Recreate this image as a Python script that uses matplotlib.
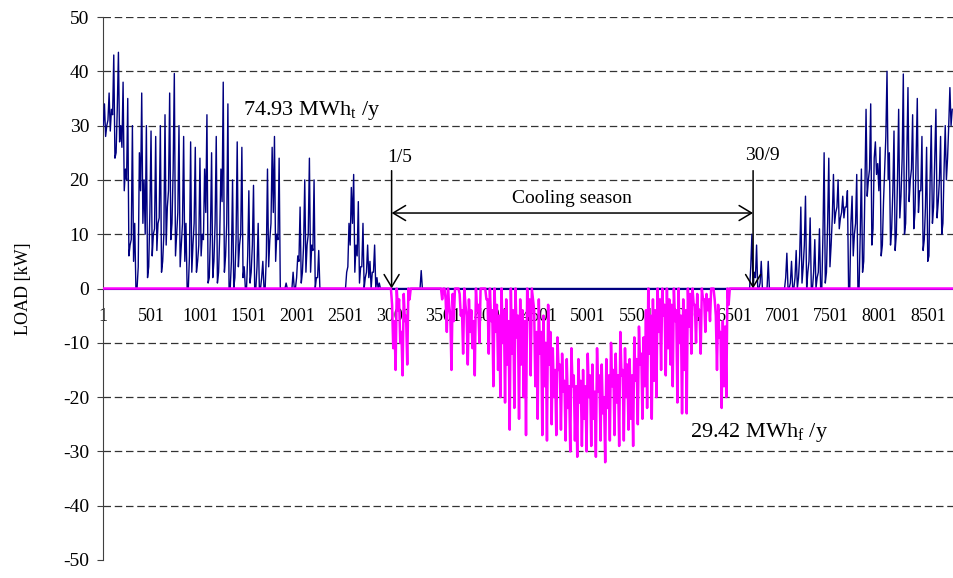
import numpy as np
import matplotlib.pyplot as plt

plt.rcParams['font.family'] = ['Liberation Serif', 'DejaVu Serif']
plt.rcParams['mathtext.fontset'] = 'custom'
plt.rcParams['mathtext.rm'] = 'Liberation Serif'
plt.rcParams['mathtext.it'] = 'Liberation Serif:italic'
plt.rcParams['axes.unicode_minus'] = False

# readings (kW): one daytime and one night value per day
heat_spring_start = 0
heat_spring_day = [
    34, 30, 36, 33, 43, 25, 43.5, 30, 38, 22,
    35, 8, 30, 12, 0, 25, 36, 20, 30, 4,
    29, 10, 28, 12, 30, 5, 32, 15, 36, 12,
    39.6, 10, 30, 8, 28, 12, 0, 27, 8, 26,
    5, 24, 10, 22, 32, 2, 25, 5, 28, 3,
    22, 38, 6, 34, 0, 20, 2, 27, 8, 26,
    4, 0, 18, 3, 19, 0, 12, 0, 5, 0,
    22, 9, 26, 28, 10, 24, 0, 0, 1, 0,
    0, 3, 0, 6, 15, 3, 20, 8, 24, 8,
    20, 2, 7, 0, 0, 0, 0, 0, 0, 0,
    0, 0, 0, 0, 3, 12, 18.6, 21, 8, 16,
    4, 12, 2, 8, 5, 3, 8, 2, 1, 0,
    0, 0, 0, 0, 0, 0, 0, 0, 0, 0,
    0, 0, 0, 0, 0, 0, 3.3,
]
heat_spring_night = [
    30, 28, 31, 29, 32, 24, 33, 27, 26, 18,
    20, 6, 9, 5, 0, 4, 18, 12, 10, 2,
    14, 6, 11, 7, 13, 3, 10, 8, 18, 9,
    22, 6, 14, 4, 12, 5, 0, 6, 3, 12,
    3, 8, 6, 9, 14, 1, 10, 2, 12, 1,
    10, 16, 3, 12, 0, 5, 0, 9, 4, 10,
    2, 0, 6, 1, 8, 0, 4, 0, 2, 0,
    6, 4, 12, 14, 5, 9, 0, 0, 0, 0,
    0, 0, 0, 2, 5, 1, 8, 3, 10, 3,
    7, 0, 2, 0, 0, 0, 0, 0, 0, 0,
    0, 0, 0, 0, 0, 4, 8, 12, 3, 6,
    1, 4, 0, 3, 2, 0, 3, 0, 0, 0,
    0, 0, 0, 0, 0, 0, 0, 0, 0, 0,
    0, 0, 0, 0, 0, 0, 0,
]
heat_autumn_start = 277
heat_autumn_day = [
    0, 10, 3, 8, 0, 5, 0, 0, 5, 0,
    0, 0, 0, 0, 0, 0, 6.5, 0, 5, 0,
    7, 2, 15, 4, 17, 3, 13, 0, 9, 2,
    11, 0, 25, 3, 24, 8, 21, 14, 20, 13,
    17, 15, 18, 0, 17, 10, 21, 0, 22, 5,
    33, 20, 34, 11, 27, 23, 26, 8, 22, 40,
    25, 11, 29, 10, 33, 17, 39.5, 12, 37, 20,
    32, 14, 35, 18, 28, 9, 26, 6, 30, 15,
    33, 16, 28, 12, 30, 24, 37, 33,
]
heat_autumn_night = [
    0, 4, 0, 2, 0, 1, 0, 0, 0, 0,
    0, 0, 0, 0, 0, 0, 2, 0, 1, 0,
    2, 0, 6, 1, 8, 0, 5, 0, 3, 0,
    3, 0, 10, 1, 12, 4, 13, 12, 15, 11,
    14, 13, 15, 0, 12, 6, 12, 0, 10, 3,
    18, 17, 22, 8, 24, 21, 18, 6, 16, 28,
    20, 8, 18, 7, 20, 13, 24, 10, 24, 16,
    22, 11, 24, 14, 18, 7, 15, 5, 20, 12,
    24, 13, 20, 10, 22, 20, 30, 30,
]
cool_start = 123
cool_day = [
    0,
    -11, -15, -4, -10, -16, -6, -14, -2,
    0, 0, 0, 0, 0, 0, 0, 0, 0, 0, 0, 0, 0,
    -2, 0, -8, -3, -15, -6, 0, 0,
    -5, -12, -3, -14, -8, -11, -16, -4, -10, 0,
    0, -2, -12, -6, -18, -8, -15, -20, -10, -21,
    -14, -26, -12, -22, -9, -24, -14, -20, -27, -5,
    -16, -2, -18, -24, -12, -27, -18, -28, -14, -25,
    -20, -27, -15, -26, -19, -28, -22, -30, -18, -28,
    -31, -21, -29, -24, -30, -20, -29, -24, -31, -19,
    -28, -23, -32, -22, -28, -18, -27, -21, -29, -16,
    -28, -20, -26, -24, -29, -17, -25, -14, -24, -18,
    -22, -12, -24, -17, -20, -8, -15, -5, -16, -11,
    -14, -18, -6, -21, -10, -23, -15, -23, -7, -12,
    -3, -10, -5, -12, -2, -8, -4, -6, 0, -2,
    -15, -9, -22, -18, -20, -3, 0,
]
cool_night = [
    0,
    -3, -6, 0, -2, -8, -1, -5, 0,
    0, 0, 0, 0, 0, 0, 0, 0, 0, 0, 0, 0, 0,
    0, 0, -2, 0, -5, -1, 0, 0,
    -1, -4, 0, -5, -2, -4, -6, 0, -3, 0,
    0, 0, -2, 0, -4, 0, -3, -5, 0, -4,
    -2, -6, 0, -4, 0, -5, -2, -4, -6, 0,
    -2, 0, -4, -8, -2, -8, -5, -10, -3, -8,
    -11, -15, -9, -14, -12, -17, -13, -18, -11, -16,
    -18, -13, -17, -15, -18, -12, -16, -14, -19, -11,
    -16, -14, -20, -13, -16, -10, -15, -12, -16, -8,
    -15, -11, -14, -13, -16, -9, -13, -7, -12, -9,
    -4, 0, -5, -2, -4, 0, -2, 0, -3, 0,
    -2, -3, 0, -4, 0, -5, -2, -4, 0, -1,
    0, -3, -1, -4, 0, -2, -1, -2, 0, 0,
    -5, -3, -8, -6, -7, 0, 0,
]


def to_year(start, day_vals, night_vals, n_days=365):
    d = np.zeros(n_days)
    n = np.zeros(n_days)
    d[start:start + len(day_vals)] = day_vals
    n[start:start + len(night_vals)] = night_vals
    out = np.empty(2 * n_days)
    out[0::2] = n
    out[1::2] = d
    return out


heat = to_year(heat_spring_start, heat_spring_day, heat_spring_night) + \
    to_year(heat_autumn_start, heat_autumn_day, heat_autumn_night)
cooling = to_year(cool_start, cool_day, cool_night)
t_night = 4 + np.arange(365) * 24
hours = np.empty(730)
hours[0::2] = t_night
hours[1::2] = t_night + 12

season_start = 2975   # 1/5
season_end = 6700     # 30/9

fig = plt.figure(figsize=(9.54, 5.78), dpi=100)
ax = fig.add_axes([103 / 954, 18 / 578, 850 / 954, 543 / 578])

ax.plot(hours, heat, color='#000080', lw=1.0, zorder=3)
ax.plot(hours, cooling, color='#FF00FF', lw=1.8, zorder=4)

ax.set_xlim(1, 8760)
ax.set_ylim(-50, 50)
for v in range(-40, 51, 10):
    if v != 0:
        ax.axhline(v, color='#333333', lw=0.9, ls=(0, (6, 3)), zorder=1)

ax.spines['top'].set_visible(False)
ax.spines['right'].set_visible(False)
ax.spines['bottom'].set_position(('data', 0))
ax.spines['bottom'].set_color('#000080')
ax.spines['left'].set_color('#404040')

ax.set_yticks(range(-50, 51, 10))
ax.set_xticks(range(1, 8760, 500))
ax.set_xticklabels([str(h) for h in range(1, 8760, 500)])
ax.tick_params(axis='x', length=0, pad=14, labelsize=13)
ax.tick_params(axis='y', length=4, direction='out', labelsize=14, pad=6, color='#404040')
ax.set_ylabel('LOAD [kW]', fontsize=13, labelpad=22)

arr = dict(arrowstyle='->, head_length=0.5, head_width=0.3', color='black',
           lw=1.1, mutation_scale=18, shrinkA=0, shrinkB=0)
ax.annotate('', xy=(season_start, 0), xytext=(season_start, 21.7), arrowprops=arr)
ax.annotate('', xy=(season_end, 0), xytext=(season_end, 21.7), arrowprops=arr)
ax.annotate('', xy=(season_start, 13.9), xytext=(season_end, 13.9),
            arrowprops=dict(arr, arrowstyle='<->, head_length=0.5, head_width=0.3'))

ax.text(3062, 23.3, '1/5', ha='center', va='baseline', fontsize=14)
ax.text(6792, 23.6, '30/9', ha='center', va='baseline', fontsize=14)
ax.text(4834, 15.7, 'Cooling season', ha='center', va='baseline', fontsize=14)
ax.text(1444, 31.9, r'74.93 MWh$_\mathrm{t}$ /y', ha='left', va='baseline', fontsize=16)
ax.text(6050, -27.4, r'29.42 MWh$_\mathrm{f}$ /y', ha='left', va='baseline', fontsize=16)

fig.savefig('out.png', dpi=100)
